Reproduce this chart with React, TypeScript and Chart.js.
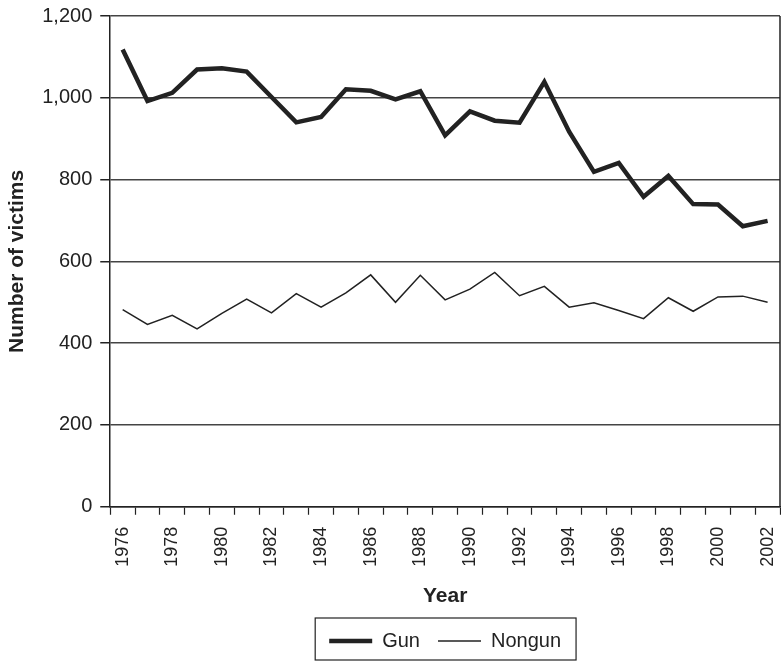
import React, { useEffect, useRef } from "react";
import { Chart, registerables } from "chart.js";

Chart.register(...registerables);

const years = [
  "1976", "1977", "1978", "1979", "1980", "1981", "1982", "1983", "1984",
  "1985", "1986", "1987", "1988", "1989", "1990", "1991", "1992", "1993",
  "1994", "1995", "1996", "1997", "1998", "1999", "2000", "2001", "2002",
];

const gunVictims = [
  1118, 992, 1012, 1069, 1072, 1064, 1002, 940, 953, 1021, 1017, 996, 1016,
  908, 967, 944, 939, 1039, 917, 819, 841, 758, 809, 740, 739, 686, 699,
];

const nongunVictims = [
  482, 446, 468, 435, 473, 508, 474, 521, 488, 523, 567, 500, 566, 506, 532,
  573, 516, 539, 488, 499, 480, 460, 511, 478, 513, 515, 500,
];

const yTicks = [0, 200, 400, 600, 800, 1000, 1200];

const FONT = "'Liberation Sans', Arial, Helvetica, sans-serif";
const INK = "#222222";

const frameAndLegendBox = {
  id: "frameAndLegendBox",
  afterLayout(chart: any) {
    const legend = chart.legend;
    const area = chart.chartArea;
    if (legend && area) {
      const shift = (area.left + area.right) / 2 - (legend.left + legend.right) / 2;
      legend.left += shift;
      legend.right += shift;
    }
  },
  afterDraw(chart: any) {
    const ctx = chart.ctx;
    const area = chart.chartArea;
    ctx.save();
    ctx.strokeStyle = INK;
    ctx.lineWidth = 1.5;
    ctx.beginPath();
    ctx.moveTo(area.right, area.top);
    ctx.lineTo(area.right, area.bottom);
    ctx.stroke();
    const legend = chart.legend;
    if (legend && legend.legendHitBoxes && legend.legendHitBoxes.length) {
      const boxes = legend.legendHitBoxes;
      let l = Infinity, r = -Infinity, t = Infinity, b = -Infinity;
      for (const h of boxes) {
        l = Math.min(l, h.left);
        r = Math.max(r, h.left + h.width);
        t = Math.min(t, h.top);
        b = Math.max(b, h.top + h.height);
      }
      ctx.lineWidth = 1.2;
      ctx.strokeRect(l - 14, t - 13, r - l + 29, b - t + 22);
    }
    ctx.restore();
  },
};

export default function App() {
  const canvasRef = useRef<HTMLCanvasElement | null>(null);

  useEffect(() => {
    if (!canvasRef.current) return;
    const chart = new Chart(canvasRef.current, {
      type: "line",
      data: {
        labels: years,
        datasets: [
          {
            label: "Gun",
            data: gunVictims,
            borderColor: INK,
            backgroundColor: INK,
            borderWidth: 4.5,
            pointRadius: 0,
            tension: 0,
            fill: false,
          },
          {
            label: "Nongun",
            data: nongunVictims,
            borderColor: INK,
            backgroundColor: INK,
            borderWidth: 1.5,
            pointRadius: 0,
            tension: 0,
            fill: false,
          },
        ],
      },
      options: {
        animation: false,
        responsive: true,
        maintainAspectRatio: false,
        layout: { padding: { top: 3, right: 1, bottom: 0, left: 5 } },
        plugins: {
          tooltip: { enabled: false },
          legend: {
            position: "bottom",
            labels: {
              color: INK,
              font: { family: FONT, size: 20 },
              usePointStyle: true,
              pointStyle: "line",
              pointStyleWidth: 43,
              boxHeight: 20,
              padding: 18,
            },
          },
        },
        scales: {
          x: {
            type: "category",
            offset: true,
            afterFit: (s: any) => {
              s.paddingRight = 0;
              s.paddingLeft = 0;
            },
            grid: {
              offset: true,
              drawOnChartArea: false,
              drawTicks: true,
              tickLength: 8,
              tickColor: INK,
              tickWidth: 1.2,
            },
            border: { display: true, color: INK, width: 1.5 },
            ticks: {
              autoSkip: false,
              maxRotation: 90,
              minRotation: 90,
              padding: 12,
              color: INK,
              font: { family: FONT, size: 18 },
              callback: (_v: any, i: number) => (i % 2 === 0 ? years[i] : ""),
            },
            title: {
              display: true,
              text: "Year",
              color: INK,
              font: { family: FONT, size: 21, weight: "bold" },
              padding: { top: 5, bottom: 4 },
            },
          },
          y: {
            min: 0,
            max: 1200,
            afterBuildTicks: (scale: any) => {
              scale.ticks = yTicks.map((v) => ({ value: v }));
            },
            afterFit: (s: any) => {
              s.paddingTop = 16;
              s.paddingBottom = 0;
            },
            grid: {
              color: "#444444",
              lineWidth: 1.5,
              drawTicks: true,
              tickLength: 10,
              tickColor: INK,
            },
            border: { display: true, color: INK, width: 1.5 },
            ticks: {
              padding: 8,
              color: INK,
              font: { family: FONT, size: 20 },
              callback: (v: any) => Number(v).toLocaleString("en-US"),
            },
            title: {
              display: true,
              text: "Number of victims",
              color: INK,
              font: { family: FONT, size: 21, weight: "bold" },
              padding: { top: 0, bottom: 4 },
            },
          },
        },
      },
      plugins: [frameAndLegendBox],
    });
    return () => chart.destroy();
  }, []);

  return (
    <div style={{ position: "absolute", left: 0, top: 0, width: 781, height: 661 }}>
      <canvas ref={canvasRef} />
    </div>
  );
}
